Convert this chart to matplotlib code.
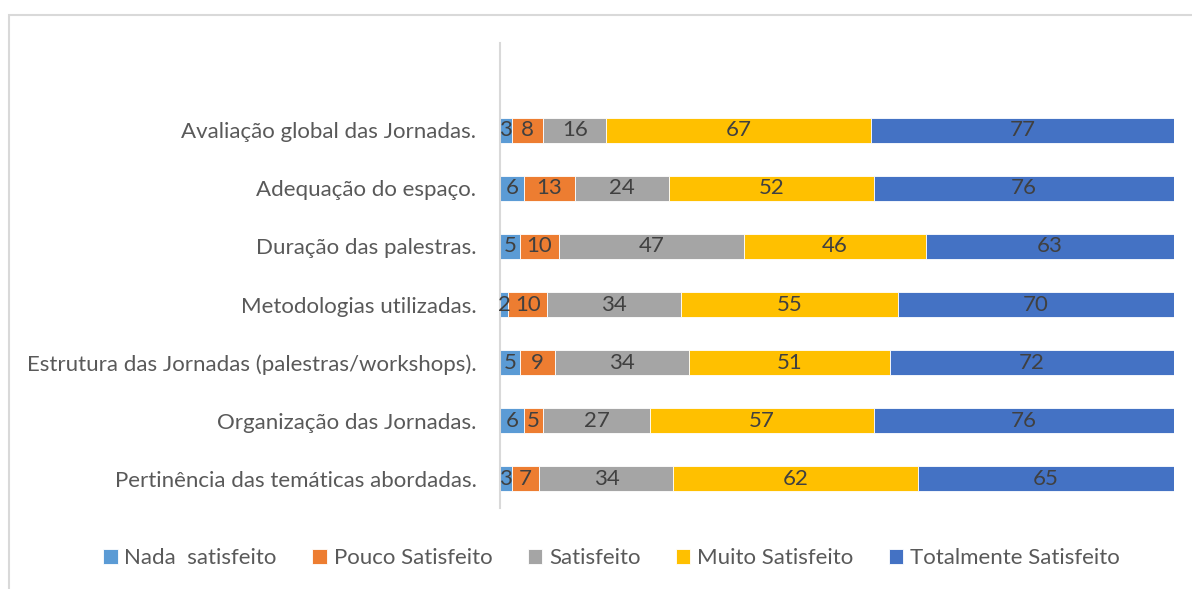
import numpy as np
import matplotlib.pyplot as plt
from matplotlib.patches import Rectangle

plt.rcParams['font.family'] = ['Lato', 'DejaVu Sans']

# Dados (de baixo para cima)
categorias = ["Pertinência das temáticas abordadas.",
              "Organização das Jornadas.",
              "Estrutura das Jornadas (palestras/workshops).",
              "Metodologias utilizadas.",
              "Duração das palestras.",
              "Adequação do espaço.",
              "Avaliação global das Jornadas."]
series = ["Nada  satisfeito", "Pouco Satisfeito", "Satisfeito",
          "Muito Satisfeito", "Totalmente Satisfeito"]
nada = [3, 6, 5, 2, 5, 6, 3]
pouco = [7, 5, 9, 10, 10, 13, 8]
satisfeito = [34, 27, 34, 34, 47, 24, 16]
muito = [62, 57, 51, 55, 46, 52, 67]
totalmente = [65, 76, 72, 70, 63, 76, 77]
cores = ["#5B9BD5", "#ED7D31", "#A5A5A5", "#FFC000", "#4472C4"]

valores = [nada, pouco, satisfeito, muito, totalmente]

fig = plt.figure(figsize=(11.92, 5.89), dpi=100)
ax = fig.add_axes([500/1192, 1 - 508/589, 674/1192, 465/589])

y = np.arange(len(categorias))
left = np.zeros(len(categorias))
for nome, vals, cor in zip(series, valores, cores):
    vals = np.array(vals)
    bars = ax.barh(y, vals, left=left, height=0.43, color=cor,
                   edgecolor="white", linewidth=0.6, label=nome)
    ax.bar_label(bars, labels=[str(v) for v in vals], label_type="center",
                 fontsize=16, color="#404040")
    left += vals

ax.set_xlim(0, left.max())
ax.set_ylim(-0.5, 7.5)
ax.set_yticks(y)
ax.set_yticklabels(categorias, fontsize=16, color="#595959")
ax.tick_params(axis="y", length=0, pad=17)
ax.set_xticks([])
for s in ["top", "right", "bottom"]:
    ax.spines[s].set_visible(False)
ax.spines["left"].set_color("#D9D9D9")
ax.spines["left"].set_linewidth(1.5)

fig.legend(loc="center", bbox_to_anchor=(0.513, 1 - 558/589), ncol=5,
           frameon=False, fontsize=16, handlelength=0.65, handleheight=0.65,
           handletextpad=0.3, columnspacing=1.6, labelcolor="#595959")

# moldura do gráfico
fig.patches.append(Rectangle((9/1192, -0.05), 1.1, 1 - 15/589 + 0.05,
                             transform=fig.transFigure, fill=False,
                             edgecolor="#D9D9D9", linewidth=1.5))

fig.savefig("out.png", dpi=100)
